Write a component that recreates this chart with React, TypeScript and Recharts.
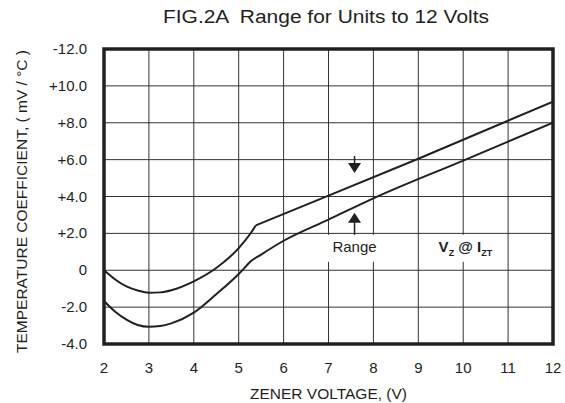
import { LineChart, Line, XAxis, YAxis, CartesianGrid, ReferenceArea, ReferenceLine, ReferenceDot } from "recharts";

const FONT = "'Liberation Sans', Arial, Helvetica, sans-serif";
const INK = "#231f20";

const xTicks = [2, 3, 4, 5, 6, 7, 8, 9, 10, 11, 12];
const yTicks = [-4, -2, 0, 2, 4, 6, 8, 10, 12];
const yTickLabels = ["-4.0", "-2.0", "0", "+2.0", "+4.0", "+6.0", "+8.0", "+10.0", "-12.0"];

// upper limit, curved part up to the knee
const upperCurveV = [2, 2.25, 2.5, 2.75, 3, 3.25, 3.5, 4, 4.5, 5, 5.25, 5.38];
const upperCurveT = [0, -0.5, -0.88, -1.1, -1.22, -1.2, -1.08, -0.6, 0.12, 1.2, 1.95, 2.43];
// upper limit, straight part after the knee
const upperLineV = [5.38, 7, 9, 12];
const upperLineT = [2.43, 4.05, 6.05, 9.15];
// lower limit
const lowerV = [2, 2.25, 2.5, 2.75, 3, 3.25, 3.5, 4, 4.5, 5, 5.1, 5.25, 5.5, 6, 7, 8, 10, 12];
const lowerT = [-1.67, -2.25, -2.68, -2.97, -3.07, -3.03, -2.88, -2.3, -1.3, -0.2, 0.05, 0.45, 0.85, 1.6, 2.75, 3.9, 5.95, 8.0];

const toPoints = (vs: number[], ts: number[]) => vs.map((v, i) => ({ v, t: ts[i] }));
const upperCurve = toPoints(upperCurveV, upperCurveT);
const upperLine = toPoints(upperLineV, upperLineT);
const lower = toPoints(lowerV, lowerT);

const arrowX = 7.58;

const YTick = (props: any) => {
  const { x, y, payload } = props;
  const i = yTicks.indexOf(payload.value);
  return (
    <text x={x} y={y} dy={5} textAnchor="end" fontSize={15} fill={INK} fontFamily={FONT}>
      {yTickLabels[i]}
    </text>
  );
};

const arrowDown = (p: any) => (
  <path d={`M${p.cx},${p.cy} L${p.cx - 6.5},${p.cy - 10} L${p.cx + 6.5},${p.cy - 10} Z`} fill={INK} />
);
const arrowUp = (p: any) => (
  <path d={`M${p.cx},${p.cy} L${p.cx - 6.5},${p.cy + 10} L${p.cx + 6.5},${p.cy + 10} Z`} fill={INK} />
);

const rangeLabel = (p: any) => (
  <g>
    <rect x={p.cx - 30} y={p.cy - 17} width={60} height={27} fill="#fff" />
    <text x={p.cx} y={p.cy} textAnchor="middle" fontSize={15} fill={INK} fontFamily={FONT}>
      Range
    </text>
  </g>
);

const vzLabel = (p: any) => (
  <g>
    <rect x={p.cx - 40} y={p.cy - 17} width={78} height={27} fill="#fff" />
    <text x={p.cx} y={p.cy} textAnchor="middle" fontSize={15} fontWeight="bold" fill={INK} fontFamily={FONT}>
      V<tspan fontSize={9} dy={4}>Z</tspan>
      <tspan dy={-4}> @ </tspan>I<tspan fontSize={9} dy={4}>ZT</tspan>
    </text>
  </g>
);

const yLabel = (props: any) => {
  const vb = props.viewBox || { x: 0, y: 49, width: 104, height: 295 };
  const cx = 27;
  const cy = vb.y + vb.height / 2 + 5;
  return (
    <text
      x={cx}
      y={cy}
      transform={`rotate(-90, ${cx}, ${cy})`}
      textAnchor="middle"
      fontSize={15.5}
      fill={INK}
      fontFamily={FONT}
    >
      TEMPERATURE COEFFICIENT, ( mV / °C )
    </text>
  );
};

export default function App() {
  return (
    <div style={{ position: "absolute", left: 0, top: 0, width: 565, height: 403, background: "#fff" }}>
      <svg width={565} height={40} style={{ position: "absolute", left: 0, top: 0 }}>
        <text
          x={326}
          y={23}
          textAnchor="middle"
          fontSize={18}
          fill={INK}
          fontFamily={FONT}
          xmlSpace="preserve"
          style={{ whiteSpace: "pre" }}
          textLength={326}
          lengthAdjust="spacingAndGlyphs"
        >
          {"FIG.2A  Range for Units to 12 Volts"}
        </text>
      </svg>
      <LineChart width={565} height={403} margin={{ top: 49, right: 12, bottom: 0, left: 0 }}>
        <CartesianGrid stroke="#333" strokeWidth={1} />
        <XAxis
          dataKey="v"
          type="number"
          domain={[2, 12]}
          ticks={xTicks}
          allowDataOverflow
          height={59}
          tickSize={0}
          tickMargin={18}
          axisLine={false}
          tick={{ fontSize: 15, fill: INK, fontFamily: FONT }}
          label={{ value: "ZENER VOLTAGE, (V)", position: "insideBottom", offset: 4, fontSize: 15.5, fill: INK, fontFamily: FONT }}
        />
        <YAxis
          dataKey="t"
          type="number"
          domain={[-4, 12]}
          ticks={yTicks}
          allowDataOverflow
          width={104}
          tickSize={0}
          tickMargin={17}
          axisLine={false}
          tick={<YTick />}
          label={yLabel}
        />
        <Line data={upperCurve} dataKey="t" type="monotone" stroke={INK} strokeWidth={2} dot={false} isAnimationActive={false} />
        <Line data={upperLine} dataKey="t" type="linear" stroke={INK} strokeWidth={2} dot={false} isAnimationActive={false} />
        <Line data={lower} dataKey="t" type="monotone" stroke={INK} strokeWidth={2} dot={false} isAnimationActive={false} />
        <ReferenceLine segment={[{ x: arrowX, y: 6.2 }, { x: arrowX, y: 5.7 }]} stroke={INK} strokeWidth={1.5} />
        <ReferenceDot x={arrowX} y={5.28} shape={arrowDown} />
        <ReferenceLine segment={[{ x: arrowX, y: 2.7 }, { x: arrowX, y: 1.9 }]} stroke={INK} strokeWidth={1.5} />
        <ReferenceDot x={arrowX} y={3.12} shape={arrowUp} />
        <ReferenceDot x={arrowX} y={1.0} shape={rangeLabel} />
        <ReferenceDot x={10.05} y={1.0} shape={vzLabel} />
        <ReferenceArea x1={2} x2={12} y1={-4} y2={12} fill="none" fillOpacity={0} stroke={INK} strokeWidth={3.5} />
      </LineChart>
    </div>
  );
}
